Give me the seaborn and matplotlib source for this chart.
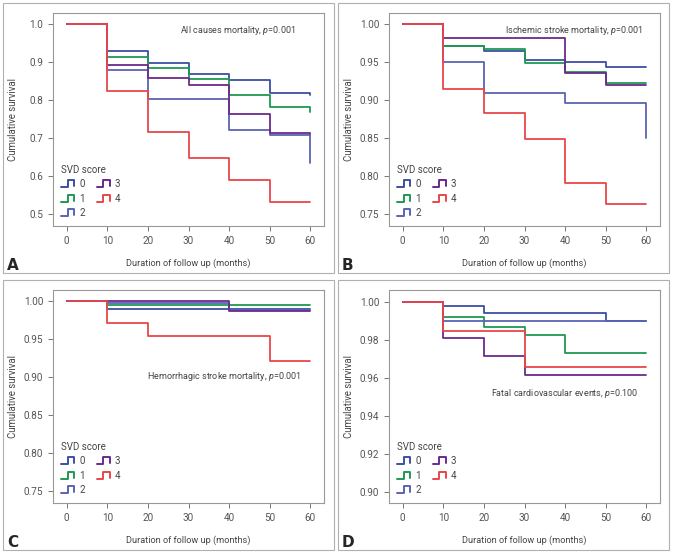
import numpy as np
import pandas as pd
import matplotlib
matplotlib.use("Agg")
import matplotlib.pyplot as plt
import seaborn as sns
from matplotlib.legend_handler import HandlerBase
from matplotlib.lines import Line2D
from matplotlib.patches import Rectangle

# follow-up times (months); survival holds from each time to the next
times = [0, 10, 20, 30, 40, 50, 60]
scores = ["0", "1", "2", "3", "4"]
colors = ["#3b4fa3", "#1f9a50", "#5a63b5", "#6b2a8e", "#e8474a"]

# panel A - all causes mortality
surv_a0 = [1.0, 0.929, 0.899, 0.869, 0.853, 0.820, 0.820]
surv_a1 = [1.0, 0.913, 0.885, 0.857, 0.815, 0.782, 0.782]
surv_a2 = [1.0, 0.879, 0.804, 0.804, 0.722, 0.709, 0.709]
surv_a3 = [1.0, 0.894, 0.858, 0.840, 0.764, 0.713, 0.713]
surv_a4 = [1.0, 0.825, 0.716, 0.648, 0.590, 0.532, 0.532]
end_a = [0.815, 0.768, 0.634, 0.710, 0.532]

# panel B - ischemic stroke mortality
surv_b0 = [1.0, 0.971, 0.965, 0.9525, 0.951, 0.944, 0.944]
surv_b1 = [1.0, 0.971, 0.967, 0.9495, 0.937, 0.9225, 0.9225]
surv_b2 = [1.0, 0.951, 0.910, 0.910, 0.897, 0.897, 0.897]
surv_b3 = [1.0, 0.9815, 0.9815, 0.9815, 0.936, 0.920, 0.920]
surv_b4 = [1.0, 0.915, 0.883, 0.849, 0.791, 0.764, 0.764]
end_b = [0.944, 0.9225, 0.850, 0.920, 0.764]

# panel C - hemorrhagic stroke mortality
surv_c0 = [1.0, 0.990, 0.990, 0.990, 0.990, 0.990, 0.990]
surv_c1 = [1.0, 0.995, 0.995, 0.995, 0.995, 0.995, 0.995]
surv_c2 = [1.0, 0.998, 0.998, 0.998, 0.989, 0.989, 0.989]
surv_c3 = [1.0, 1.0, 1.0, 1.0, 0.988, 0.988, 0.988]
surv_c4 = [1.0, 0.971, 0.954, 0.954, 0.954, 0.921, 0.921]
end_c = [0.990, 0.995, 0.989, 0.988, 0.921]

# panel D - fatal cardiovascular events
surv_d0 = [1.0, 0.998, 0.994, 0.994, 0.994, 0.990, 0.990]
surv_d1 = [1.0, 0.992, 0.987, 0.9826, 0.973, 0.973, 0.973]
surv_d2 = [1.0, 0.990, 0.990, 0.990, 0.990, 0.990, 0.990]
surv_d3 = [1.0, 0.981, 0.9714, 0.9614, 0.9614, 0.9614, 0.9614]
surv_d4 = [1.0, 0.985, 0.985, 0.966, 0.966, 0.966, 0.966]
end_d = [0.990, 0.973, 0.990, 0.9614, 0.966]

titles = ["All causes mortality, ", "Ischemic stroke mortality, ",
          "Hemorrhagic stroke mortality, ", "Fatal cardiovascular events, "]
pvals = ["0.001", "0.001", "0.001", "0.100"]
letters = ["A", "B", "C", "D"]

panels = [
    ([surv_a0, surv_a1, surv_a2, surv_a3, surv_a4], end_a),
    ([surv_b0, surv_b1, surv_b2, surv_b3, surv_b4], end_b),
    ([surv_c0, surv_c1, surv_c2, surv_c3, surv_c4], end_c),
    ([surv_d0, surv_d1, surv_d2, surv_d3, surv_d4], end_d),
]

sns.set_style("white")
plt.rcParams["font.family"] = ["Roboto", "DejaVu Sans"]
plt.rcParams["mathtext.fontset"] = "custom"
plt.rcParams["mathtext.rm"] = "Roboto"
plt.rcParams["mathtext.it"] = "Roboto:italic"


class StepHandler(HandlerBase):
    def create_artists(self, legend, orig_handle, xdescent, ydescent,
                       width, height, fontsize, trans):
        x0 = -xdescent
        y0 = -ydescent
        xs = [x0, x0 + 0.5 * width, x0 + 0.5 * width, x0 + width, x0 + width]
        ys = [y0 + 0.1 * height, y0 + 0.1 * height, y0 + 0.95 * height,
              y0 + 0.95 * height, y0 + 0.25 * height]
        ln = Line2D(xs, ys, color=orig_handle.get_color(), lw=1.4,
                    transform=trans)
        return [ln]


fig = plt.figure(figsize=(6.73, 5.54), dpi=100)

# panel frames
for (fx, fy) in [(3, 3), (338, 3), (3, 280), (338, 280)]:
    fig.patches.append(Rectangle((fx / 673, 1 - (fy + 270) / 554), 331 / 673, 270 / 554,
                                 transform=fig.transFigure, fill=False,
                                 edgecolor="#b0b0b0", lw=0.8))

lefts = [53, 389, 53, 389]
bottoms = [226, 226, 503, 503]
ylims = [(0.469, 1.030), (0.7345, 1.015), (0.7345, 1.015), (0.8944, 1.0063)]
yticks = [np.arange(0.5, 1.001, 0.1), np.arange(0.75, 1.001, 0.05),
          np.arange(0.75, 1.001, 0.05), np.arange(0.90, 1.001, 0.02)]
yfmt = ["%.1f", "%.2f", "%.2f", "%.2f"]
txt_pos = [(0.893, 0.92), (0.937, 0.92), (0.915, 0.596), (0.919, 0.512)]

for i, (series, ends) in enumerate(panels):
    ax = fig.add_axes([lefts[i] / 673, 1 - bottoms[i] / 554, 271 / 673, 213 / 554])
    rows = []
    for k, s in enumerate(scores):
        for t, v in zip(times, series[k]):
            rows.append({"time": t, "surv": v, "score": s})
        rows.append({"time": times[-1], "surv": ends[k], "score": s})
    df = pd.DataFrame(rows)
    sns.lineplot(data=df, x="time", y="surv", hue="score", palette=colors,
                 estimator=None, sort=False, drawstyle="steps-post",
                 lw=1.3, ax=ax, legend=False)
    ax.set_xlim(-3.4, 63.4)
    ax.set_ylim(*ylims[i])
    ax.set_xticks(times)
    ax.set_yticks(yticks[i])
    ax.set_yticklabels([yfmt[i] % v for v in yticks[i]])
    ax.set_xlabel("Duration of follow up (months)", fontsize=6.6, color="#444444", labelpad=9)
    ax.set_ylabel("Cumulative survival", fontsize=6.9, color="#444444")
    ax.yaxis.set_label_coords(-0.128, 0.5)
    ax.tick_params(axis="both", direction="out", length=3.5, width=0.7,
                   colors="#777777", labelsize=7.2, labelcolor="#555555",
                   bottom=True, left=True)
    for sp in ax.spines.values():
        sp.set_color("#999999")
        sp.set_linewidth(0.8)
    ax.text(txt_pos[i][0], txt_pos[i][1], titles[i] + "$p$=" + pvals[i],
            transform=ax.transAxes, ha="right", va="center",
            fontsize=6.5, color="#444444")
    handles = [Line2D([], [], color=c) for c in colors]
    leg = ax.legend(handles, scores, title="SVD score", ncol=2, loc="lower left",
                    bbox_to_anchor=(0.0, 0.0), frameon=False, fontsize=7,
                    title_fontsize=7, handler_map={Line2D: StepHandler()},
                    handlelength=1.4, handleheight=0.9, handletextpad=0.5,
                    columnspacing=1.2, labelspacing=0.45, borderpad=0.3)
    leg._legend_box.align = "left"
    for t in leg.get_texts():
        t.set_color("#444444")
    leg.get_title().set_color("#444444")
    fx = 7 if i % 2 == 0 else 342
    fy = 270 if i < 2 else 547
    fig.text(fx / 673, 1 - fy / 554, letters[i], fontsize=11, fontweight="bold",
             ha="left", va="baseline", family="DejaVu Sans")

fig.savefig("out.png", dpi=100)
